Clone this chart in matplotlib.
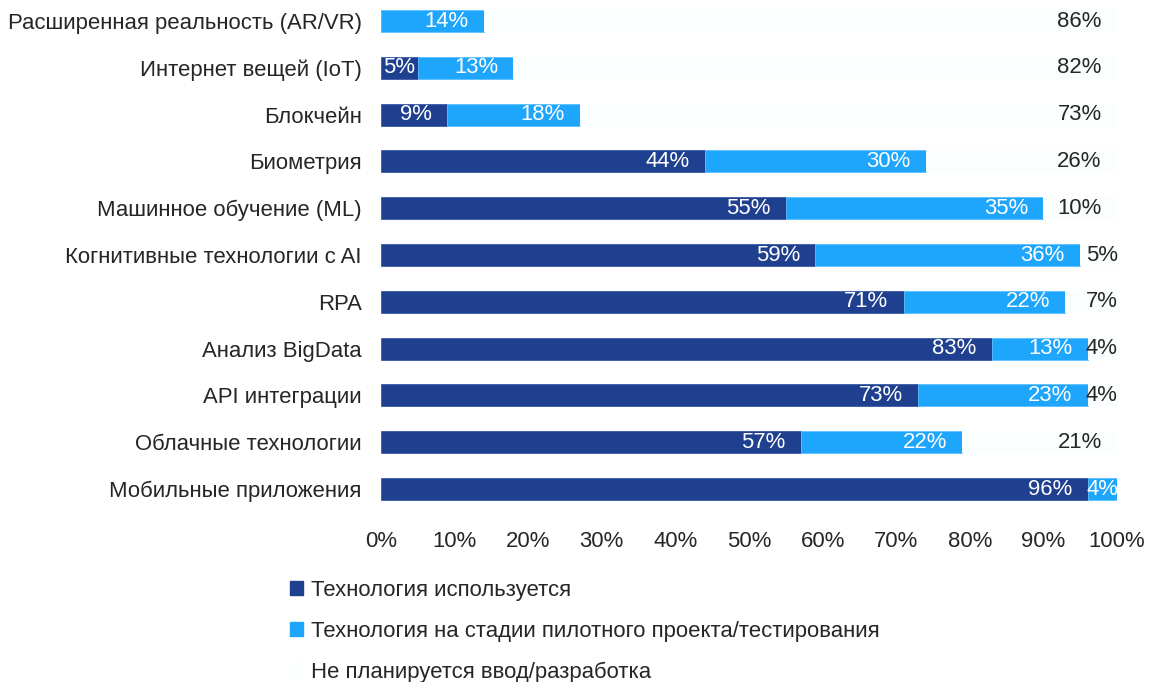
import matplotlib
matplotlib.use('Agg')
import matplotlib.pyplot as plt
from matplotlib.patches import Patch

# данные (сверху вниз)
categories = ['Расширенная реальность (AR/VR)', 'Интернет вещей (IoT)', 'Блокчейн',
              'Биометрия', 'Машинное обучение (ML)', 'Когнитивные технологии с AI',
              'RPA', 'Анализ BigData', 'API интеграции', 'Облачные технологии',
              'Мобильные приложения']
used = [0, 5, 9, 44, 55, 59, 71, 83, 73, 57, 96]
pilot = [14, 13, 18, 30, 35, 36, 22, 13, 23, 22, 4]
not_planned = [86, 82, 73, 26, 10, 5, 7, 4, 4, 21, 0]
series_names = ['Технология используется',
                'Технология на стадии пилотного проекта/тестирования',
                'Не планируется ввод/разработка']
ticks = [0, 10, 20, 30, 40, 50, 60, 70, 80, 90, 100]

c_dark = '#1f3f8f'
c_light = '#1ea5fc'
c_white = '#fbfeff'
c_text = '#262626'
fs = 15.9

plt.rcParams['font.family'] = ['Liberation Sans', 'DejaVu Sans']

fig = plt.figure(figsize=(11.51, 6.82), dpi=100)
ax = fig.add_axes([381/1151, 1 - 512/682, (1117-381)/1151, 512/682])

y = list(range(len(categories)))
h = 0.47
left2 = [u for u in used]
left3 = [u + p for u, p in zip(used, pilot)]
ax.barh(y, used, height=h, color=c_dark, edgecolor='#3a5aa8', linewidth=0.6)
ax.barh(y, pilot, left=left2, height=h, color=c_light, edgecolor='#5cc0ff', linewidth=0.6)
ax.barh(y, not_planned, left=left3, height=h, color=c_white, linewidth=0)

def label(x0, w, yi, color):
    if w <= 0:
        return
    if w < 8:
        ax.annotate(f'{w}%', (x0 + w / 2, yi), ha='center', va='center',
                    color=color, fontsize=fs)
    else:
        ax.annotate(f'{w}%', (x0 + w, yi), xytext=(-11, 0), textcoords='offset points',
                    ha='right', va='center', color=color, fontsize=fs)

for i in y:
    label(0, used[i], i, 'white')
    label(left2[i], pilot[i], i, 'white')
    # третья серия
    w = not_planned[i]
    if w > 0:
        ax.annotate(f'{w}%', (100, i), xytext=(-11, 0), textcoords='offset points',
                    ha='right' if w >= 8 else 'center', va='center',
                    color=c_text, fontsize=fs)

ax.set_xlim(0, 100)
ax.set_ylim(10.49, -0.449)
ax.set_yticks(y)
ax.set_yticklabels(categories, fontsize=fs, color=c_text)
ax.set_xticks(ticks)
ax.set_xticklabels([f'{t}%' for t in ticks], fontsize=fs, color=c_text)
ax.tick_params(length=0)
ax.tick_params(axis='y', pad=14)
ax.tick_params(axis='x', pad=14)
for s in ax.spines.values():
    s.set_visible(False)

handles = [Patch(color=c_dark), Patch(color=c_light), Patch(color=c_white)]
fig.legend(handles, series_names, loc='upper left', bbox_to_anchor=(270/1151, 1 - 560/682),
           frameon=False, fontsize=fs, handlelength=0.6, handleheight=0.6,
           handletextpad=0.35, labelspacing=0.9, labelcolor=c_text)

fig.savefig('out.png', dpi=100, facecolor='white')
